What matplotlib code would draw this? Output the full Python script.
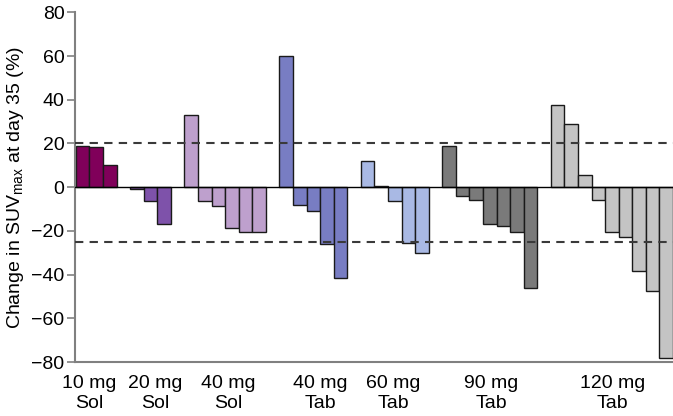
import matplotlib.pyplot as plt
import numpy as np

plt.rcParams['font.family'] = ['Liberation Sans', 'DejaVu Sans']
plt.rcParams['mathtext.default'] = 'regular'

### Data

groups = ['10 mg\nSol', '20 mg\nSol', '40 mg\nSol', '40 mg\nTab',
          '60 mg\nTab', '90 mg\nTab', '120 mg\nTab']
values = [
    [19, 18.5, 10],
    [-1, -6.5, -17],
    [33, -6.5, -8.5, -18.5, -20.5, -20.5],
    [60, -8, -11, -26, -41.5],
    [12, 0.5, -6.5, -25.5, -30],
    [19, -4, -6, -17, -18, -20.5, -46],
    [37.5, 29, 5.5, -6, -20.5, -23, -38.5, -47.5, -78],
]
colors = ['#80005a', '#7e52aa', '#bea0cd', '#787dc3', '#a9b9e4', '#7a7a7a', '#c4c4c4']
# group labels in the original are not exactly centred (in bar slots)
label_shift = [-0.5, 0.35, 0.2, 0.5, -0.1, 0.1, 0.05]
upper_cut = 20
lower_cut = -25

### Plot

fig = plt.figure(figsize=(6.73, 4.16), dpi=100)
ax = fig.add_axes([0.1114, 0.1298, 0.8886, 0.8406])

pos = 0
centers = []
for vals, col in zip(values, colors):
    x = np.arange(pos, pos + len(vals))
    ax.bar(x, vals, width=1.0, color=col, edgecolor='#1a1a1a', linewidth=1.0, zorder=2)
    centers.append(x.mean())
    pos += len(vals) + 1  # one empty slot between groups

ax.axhline(0, color='black', linewidth=1.0, zorder=3)
for yv in (upper_cut, lower_cut):
    ax.axhline(yv, color='#3a3a3a', linewidth=1.5, dashes=(4, 3), zorder=4)

ax.set_xlim(-0.57, pos - 1.5)
ax.set_ylim(-80, 80)
ax.set_yticks(np.arange(-80, 81, 20))
ax.set_xticks(np.array(centers) + np.array(label_shift))
ax.set_xticklabels(groups, fontsize=14, linespacing=1.2)
ax.tick_params(axis='x', length=0, pad=9.5)
ax.tick_params(axis='y', labelsize=14, length=6, width=1.2, color='#808080', pad=1.5, direction='out')

for side in ('top', 'right'):
    ax.spines[side].set_visible(False)
for side in ('left', 'bottom'):
    ax.spines[side].set_color('#808080')
    ax.spines[side].set_linewidth(1.5)

ax.set_ylabel('Change in SUV$_{max}$ at day 35 (%)', fontsize=14, labelpad=4)

fig.savefig('out.png', dpi=100)
